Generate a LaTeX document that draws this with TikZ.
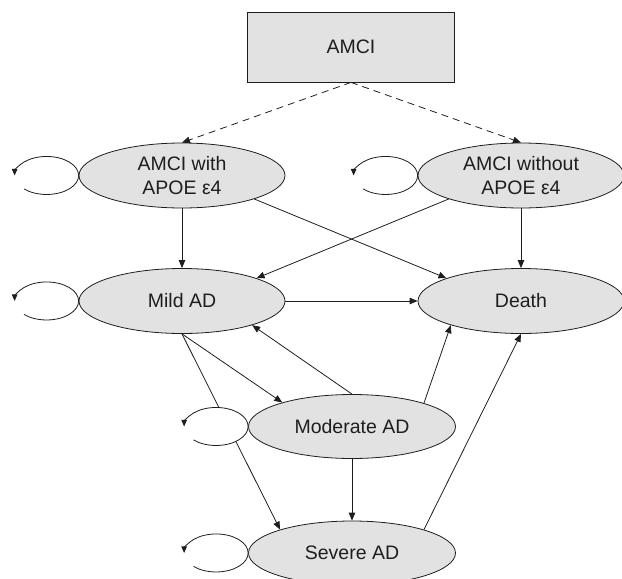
\documentclass[tikz,border=0pt]{standalone}
\usepackage{fontspec}
\setmainfont{Liberation Sans}
\usetikzlibrary{arrows.meta,shapes.geometric}
\definecolor{boxgray}{RGB}{226,226,226}
\definecolor{inkgray}{RGB}{30,30,30}

% self transition drawn as an open loop left of a state
\newcommand\selfloop[1]{%
  \draw[looparrow] ([shift={(-54.6pt,-13.4pt)}]#1.west)
    arc[start angle=-135, end angle=180, x radius=32pt, y radius=19pt];}

\begin{document}
\begin{tikzpicture}[x=1pt,y=-1pt,
  every node/.style={font=\fontsize{19.5}{24}\selectfont, text=inkgray},
  state/.style={ellipse, draw=inkgray, fill=boxgray, line width=0.8pt,
    minimum width=206pt, minimum height=65pt, inner sep=0pt, align=center},
  startbox/.style={rectangle, draw=inkgray, fill=boxgray, line width=0.8pt,
    minimum width=207pt, minimum height=70pt, inner sep=0pt},
  trans/.style={draw=inkgray, line width=0.8pt,
    -{Triangle[length=8pt,width=6.5pt]}},
  split/.style={trans, dash pattern=on 7pt off 5pt},
  looparrow/.style={draw=inkgray, fill=white, line width=0.8pt,
    -{Triangle[length=6.5pt,width=5.5pt]}}]
\useasboundingbox (0,0) rectangle (622,579);

% states
\node[startbox] (amci) at (351,47) {AMCI};
\node[state] (with)    at (182,175.5) {AMCI with\\APOE ε4};
\node[state] (without) at (521,175.5) {AMCI without\\APOE ε4};
\node[state] (mild)    at (182,301) {Mild AD};
\node[state] (death)   at (521,301) {Death};
\node[state, minimum width=207pt, minimum height=64pt] (moderate) at (352,426.5) {Moderate AD};
\node[state, minimum width=207pt, minimum height=64pt] (severe)   at (352,553) {Severe AD};

% genotype split
\draw[split] (amci.south) -- (with.north);
\draw[split] (amci.south) -- (without.north);

% transitions between states
\draw[trans] (with.south) -- (mild.north);
\draw[trans] (with.-18) -- (death.163);
\draw[trans] (without.198) -- (mild.17);
\draw[trans] (without.south) -- (death.north);
\draw[trans] (mild.east) -- (death.west);
\draw[trans] (mild.south) -- (moderate.161);
\draw[trans] (mild.south) -- (severe.162);
\draw[trans] (moderate.north) -- (mild.-19);
\draw[trans] (moderate.18) -- (death.-161);
\draw[trans] (moderate.south) -- (severe.north);
\draw[trans] (severe.18) -- (death.south);

% staying in the same state
\selfloop{with}
\selfloop{without}
\selfloop{mild}
\selfloop{moderate}
\selfloop{severe}
\end{tikzpicture}
\end{document}
